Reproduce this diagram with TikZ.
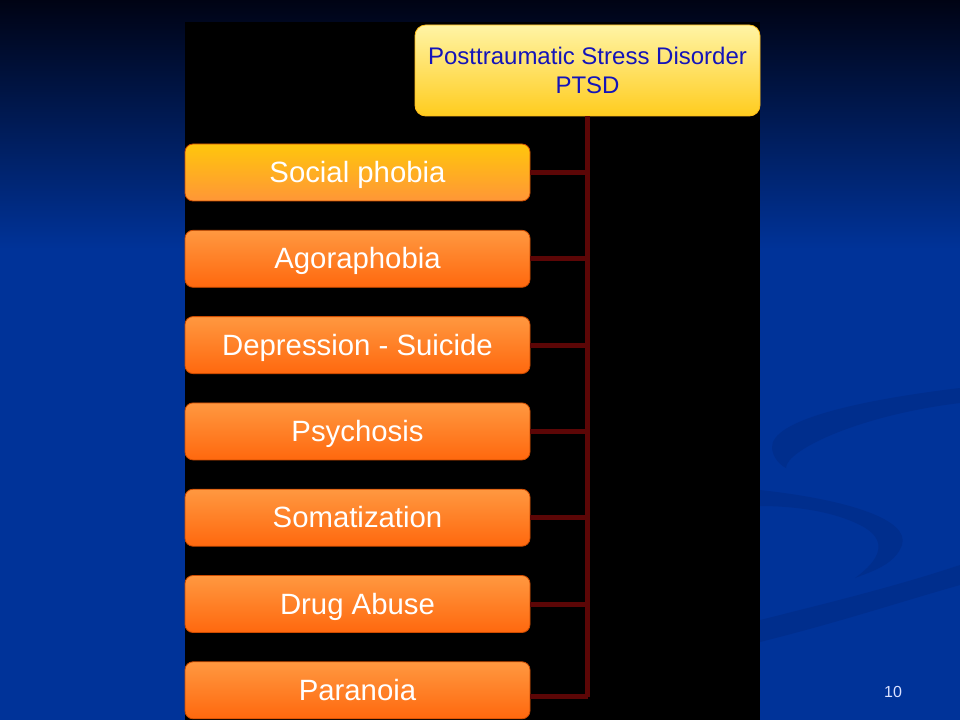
\documentclass[tikz,border=0pt]{standalone}
\usepackage{fontspec}
\setmainfont{Liberation Sans}
\setsansfont{Liberation Sans}
\usetikzlibrary{positioning}

\definecolor{bgtop}{RGB}{0,3,20}
\definecolor{bgblue}{RGB}{0,51,153}
\definecolor{swoosh}{RGB}{0,46,141}
\definecolor{ptsdtop}{RGB}{255,244,165}
\definecolor{ptsdbottom}{RGB}{255,204,30}
\definecolor{ptsdtext}{RGB}{20,20,185}
\definecolor{sunnytop}{RGB}{255,198,12}
\definecolor{sunnybottom}{RGB}{255,150,55}
\definecolor{orangetop}{RGB}{255,152,64}
\definecolor{orangebottom}{RGB}{255,104,14}
\definecolor{boxrim}{RGB}{205,75,0}
\definecolor{link}{RGB}{92,6,6}

\def\boxstep{86.3}
\def\firsty{172.5}

\begin{document}
\begin{tikzpicture}[x=0.75pt, y=-0.75pt,
    nodes = {font=\sffamily},
    itembox/.style = {draw=boxrim, line width=0.6pt, rounded corners=6pt,
      minimum width=258.75pt, minimum height=42.75pt, inner sep=0pt,
      text height=19.8pt, text depth=4.6pt,
      text=white, font=\sffamily\fontsize{22}{26}\selectfont},
    sunny/.style = {top color=sunnytop, bottom color=sunnybottom},
    orangy/.style = {top color=orangetop, bottom color=orangebottom},
    topbox/.style = {draw=ptsdbottom!80!orange, line width=0.6pt, rounded corners=8pt,
      top color=ptsdtop, bottom color=ptsdbottom,
      minimum width=258.75pt, minimum height=68.25pt, inner sep=0pt, align=center,
      text=ptsdtext, font=\sffamily\fontsize{18}{21.75}\selectfont},
    linkline/.style = {draw=link, line width=3.75pt}
  ]
  \useasboundingbox (0,0) rectangle (960,720);
  % Background
  \fill[bgblue] (0,0) rectangle (960,720);
  \shade[top color=bgtop, bottom color=bgblue] (0,0) rectangle (960,250);
  \fill[swoosh] (960,388) .. controls (860,400) and (770,420) .. (772,448)
    .. controls (773,458) and (780,465) .. (786,468)
    .. controls (786,450) and (860,415) .. (960,403) -- cycle;
  \fill[swoosh] (760,490) .. controls (850,500) and (910,520) .. (902,545)
    .. controls (895,565) and (870,572) .. (855,578)
    .. controls (880,560) and (890,540) .. (860,525)
    .. controls (830,510) and (790,506) .. (760,506) -- cycle;
  \fill[swoosh] (760,620) .. controls (840,600) and (900,585) .. (960,565)
    -- (960,585) .. controls (900,602) and (840,622) .. (760,642) -- cycle;
  % Panel
  \fill[black] (185,22) rectangle (760,720);

  \node[topbox] (ptsd) at (587.5,70.5) {Posttraumatic Stress Disorder\\PTSD};

  \foreach \name/\tint [count=\i] in {
      Social phobia/sunny,
      Agoraphobia/orangy,
      Depression - Suicide/orangy,
      Psychosis/orangy,
      Somatization/orangy,
      Drug Abuse/orangy,
      Paranoia/orangy} {
      \node[itembox, \tint] (item\i) at (357.5,{\firsty+\boxstep*(\i-1)}) {\name};
    }

  % Connectors
  \coordinate (tail) at ([yshift=-5pt]item7.east);
  \draw[linkline] (ptsd.south) -- (tail -| ptsd.south);
  \foreach \i in {1,...,6} {
      \draw[linkline] (item\i.east) -- (item\i.east -| ptsd.south);
    }
  \draw[linkline] (tail) -- (tail -| ptsd.south);

  \node[text={rgb,255:red,220;green,226;blue,255}, font=\sffamily\fontsize{12}{14}\selectfont]
    (page) at (893,692) {10};
\end{tikzpicture}
\end{document}
